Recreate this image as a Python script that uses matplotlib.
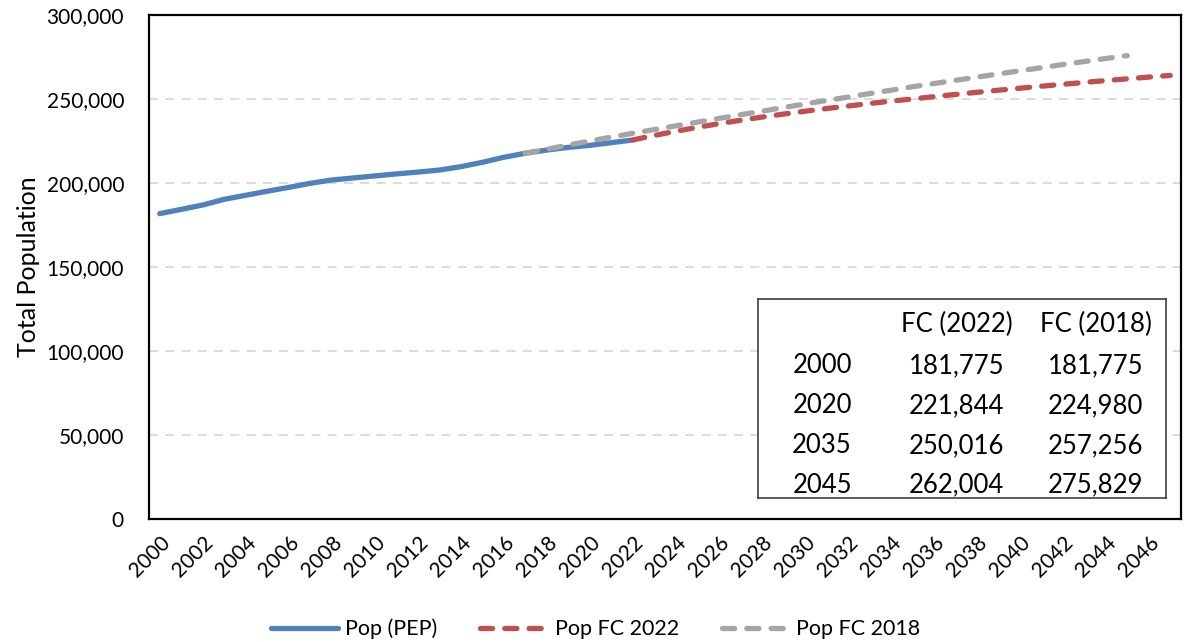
import matplotlib
matplotlib.use("Agg")
import matplotlib.pyplot as plt
import matplotlib.transforms as mtransforms
from matplotlib.ticker import FuncFormatter, MultipleLocator

plt.rcParams['font.family'] = ['Lato', 'DejaVu Sans']

# Population estimates (PEP), 2000-2022
pep_years = list(range(2000, 2023))
pep_pop = [181775, 184300, 186900, 190300, 192700, 195100, 197400, 199800,
           201800, 203000, 204200, 205400, 206500, 207700, 209700, 212300,
           215300, 217700, 219600, 221200, 222400, 224000, 225600]

# Forecast 2022, 2022-2047
fc22_years = list(range(2022, 2048))
fc22_pop = [225600, 228300, 230800, 233100, 235300, 237300, 239200, 241000,
            242700, 244300, 245800, 247300, 248700, 250016, 251370, 252690,
            253970, 255210, 256420, 257600, 258750, 259870, 260960, 262004,
            263030, 264040]

# Forecast 2018, 2017-2045
fc18_years = list(range(2017, 2046))
fc18_pop = [217700, 220100, 222600, 224980, 227300, 229600, 231800, 234000,
            236200, 238400, 240600, 242700, 244900, 247000, 249100, 251100,
            253200, 255200, 257256, 259200, 261100, 263000, 264900, 266800,
            268600, 270500, 272300, 274100, 275829]

table_header = ['', 'FC (2022)', 'FC (2018)']
table_years = ['2000', '2020', '2035', '2045']
table_fc22 = ['181,775', '221,844', '250,016', '262,004']
table_fc18 = ['181,775', '224,980', '257,256', '275,829']

blue = '#4F81BD'
red = '#C0504D'
gray = '#A5A5A5'

fig = plt.figure(figsize=(11.91, 6.42), dpi=100)
ax = fig.add_axes([149 / 1191, 1 - 519 / 642, (1181 - 149) / 1191, (519 - 15) / 642])

ax.plot(pep_years, pep_pop, color=blue, lw=3.8, solid_capstyle='round',
        label='Pop (PEP)', zorder=3)
ax.plot(fc22_years, fc22_pop, color=red, lw=3.8, ls=(0, (2.3, 2.3)),
        dash_capstyle='round', label='Pop FC 2022', zorder=4)
ax.plot(fc18_years, fc18_pop, color=gray, lw=3.8, ls=(0, (2.3, 2.3)),
        dash_capstyle='round', label='Pop FC 2018', zorder=5)

ax.set_xlim(1999.5, 2047.5)
ax.set_ylim(0, 300000)
ax.yaxis.set_major_locator(MultipleLocator(50000))
ax.yaxis.set_major_formatter(FuncFormatter(lambda v, p: f'{int(v):,}'))
ax.set_xticks(range(2000, 2047, 2))
ax.set_xticklabels([str(y) for y in range(2000, 2047, 2)], rotation=45,
                   ha='right', va='top', rotation_mode='anchor')
offset = mtransforms.ScaledTranslation(10 / 100, 0, fig.dpi_scale_trans)
for lbl in ax.get_xticklabels():
    lbl.set_transform(lbl.get_transform() + offset)

ax.tick_params(axis='both', length=0, labelsize=15, colors='black')
ax.tick_params(axis='y', pad=18)
ax.tick_params(axis='x', pad=10)
ax.grid(axis='y', color='#D9D9D9', ls=(0, (5, 4)), lw=1.3)
ax.set_axisbelow(True)
for s in ax.spines.values():
    s.set_color('black')
    s.set_linewidth(1.6)

ax.set_ylabel('Total Population', fontsize=18, labelpad=5)

# summary table box
tb = ax.inset_axes([(758 - 149) / 1032, (519 - 498) / 504, (1166 - 758) / 1032, (498 - 299) / 504])
tb.set_xlim(758, 1166)
tb.set_ylim(498, 299)
tb.set_xticks([])
tb.set_yticks([])
tb.set_facecolor('white')
for s in tb.spines.values():
    s.set_color('#404040')
    s.set_linewidth(1.2)
tb.set_zorder(6)

row_y = [365.5, 405.5, 445.5, 485]
fs_tab = 18.5
tb.text(1013, 324, table_header[1], fontsize=fs_tab, ha='right', va='center')
tb.text(1152, 324, table_header[2], fontsize=fs_tab, ha='right', va='center')
for yy, a, b, c in zip(row_y, table_years, table_fc22, table_fc18):
    tb.text(852, yy, a, fontsize=fs_tab, ha='right', va='center')
    tb.text(1004, yy, b, fontsize=fs_tab, ha='right', va='center')
    tb.text(1143, yy, c, fontsize=fs_tab, ha='right', va='center')

fig.legend(loc='center', bbox_to_anchor=(0.5, 1 - 629 / 642), ncol=3,
           frameon=False, fontsize=15.5, handlelength=3.1, handletextpad=0.35,
           columnspacing=2.0)

fig.savefig('out.png', dpi=100)
